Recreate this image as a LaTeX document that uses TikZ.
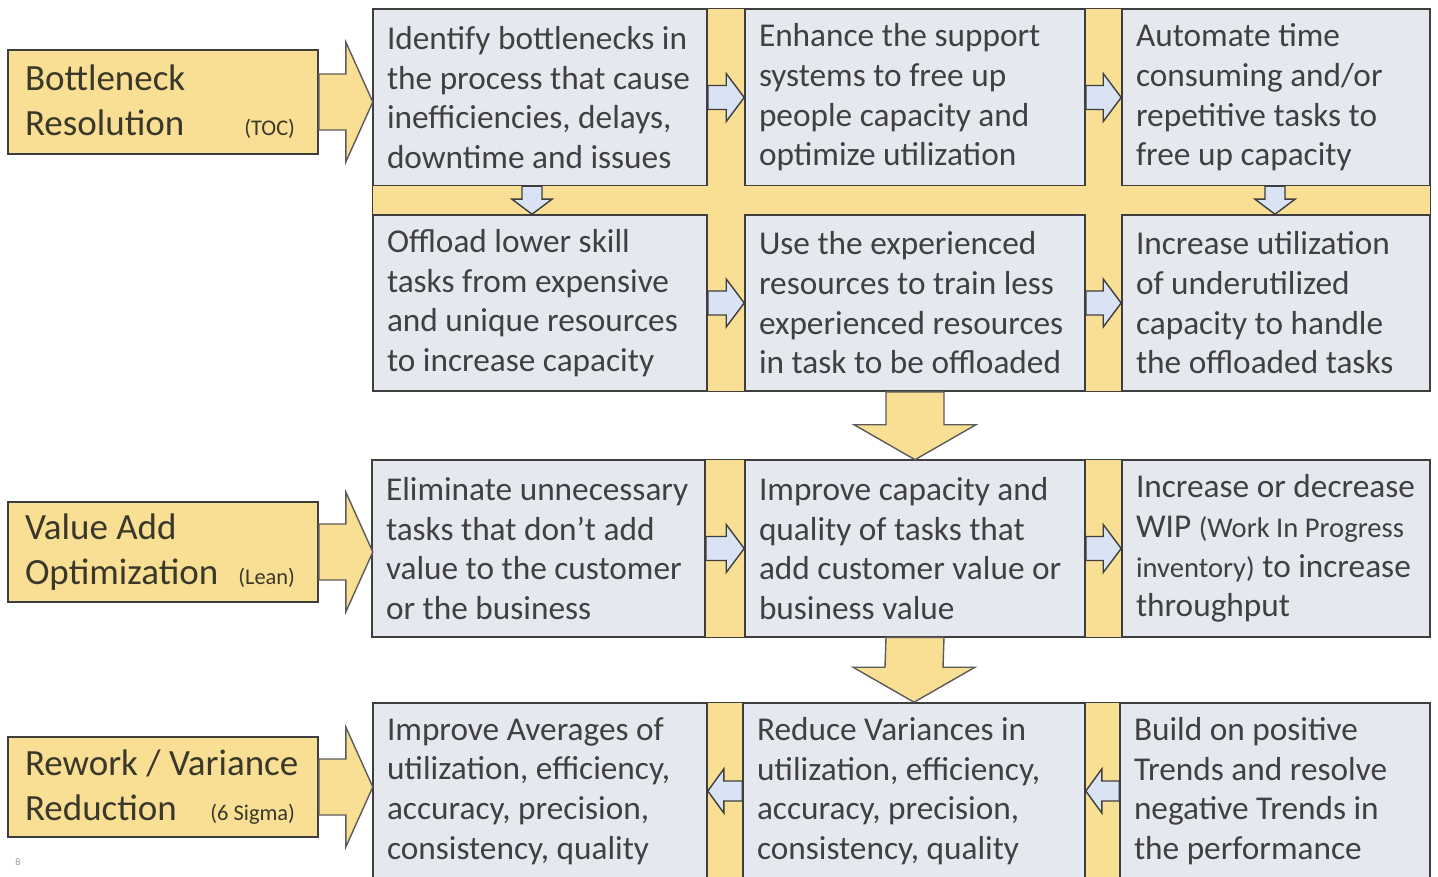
\documentclass[tikz,border=0pt]{standalone}
\usepackage{fontspec}
\setmainfont{Carlito}
\usepackage{tikz}
\usetikzlibrary{calc,backgrounds}

\definecolor{bandyellow}{RGB}{249,223,148}
\definecolor{boxgray}{RGB}{230,232,240}
\definecolor{arrowblue}{RGB}{218,227,243}
\definecolor{edgegray}{RGB}{62,62,62}
\definecolor{textgray}{RGB}{64,64,64}
\definecolor{lvltext}{RGB}{58,56,42}

\begin{document}
\begin{tikzpicture}
[
	x=1pt, y=-1pt,
	taskbox/.style={draw=edgegray, line width=1.6pt, fill=boxgray, text=textgray, align=flush left, inner xsep=14pt, minimum height=176pt, font=\fontsize{33.3}{39.7}\selectfont},
	lvlbox/.style={draw=edgegray, line width=1.6pt, fill=bandyellow, text=lvltext, align=flush left, inner xsep=17pt, text width=276pt, font=\fontsize{37}{45}\selectfont},
	smallarr/.style={draw=edgegray, line width=1.4pt, fill=arrowblue},
	bigarr/.style={draw=edgegray!85, line width=1.4pt, fill=bandyellow},
	band/.style={draw=edgegray, line width=1.2pt, fill=bandyellow}
]

\def\method#1{\hskip 0pt plus 1fill{\fontsize{22.4}{45}\selectfont #1}\hspace*{6pt}}
\def\wipfont{\fontsize{28.6}{39.7}\selectfont}
\def\rightblock#1#2{\draw[smallarr] (#1.east) ++(0,-12) -| ($(#2.west)+(-18,-24)$) -- (#2.west) -- ++(-18,24) |- ($(#1.east)+(0,12)$) -- cycle;}
\def\leftblock#1#2{\draw[smallarr] (#1.west) ++(0,-10) -| ($(#2.east)+(16,-22)$) -- (#2.east) -- ++(16,22) |- ($(#1.west)+(0,10)$) -- cycle;}
\def\downblock#1#2#3{\draw[smallarr] ($(#1.south)+(#3-10,0)$) -- ($(#2.north)+(#3-10,-15)$) -- ++(-10,0) -- ($(#2.north)+(#3,0)$) -- ++(20,-15) -- ++(-10,0) -- ($(#1.south)+(#3+10,0)$) -- cycle;}
\def\bigdown#1#2{\draw[bigarr] (#1.south) ++(-29,0) -- ($(#2.north)+(-29,-35)$) -- ++(-32,0) -- (#2.north) -- ++(61,-35) -- ++(-32,0) -- ($(#1.south)+(29,0)$) -- cycle;}
\def\lvlarrow#1{\draw[bigarr] (#1.east) ++(0,-28) -- ++(27,0) -- ++(0,-32) -- ++(27,60) -- ++(-27,60) -- ++(0,-32) -- ++(-27,0) -- cycle;}

\useasboundingbox (0,0) rectangle (1438,877);

% Bottleneck rows
\node[taskbox, text width=306pt] (a1) at (540,97.5) {Identify bottlenecks in\\the process that cause\\inefficiencies, delays,\\downtime and issues};
\node[taskbox, text width=312pt] (a2) at (915,97.5) {Enhance the support\\systems to free up\\people capacity and\\optimize utilization};
\node[taskbox, text width=280pt] (a3) at (1276,97.5) {Automate time\\consuming and/or\\repetitive tasks to\\free up capacity};
\node[taskbox, text width=306pt] (b1) at (540,303) {Offload lower skill\\tasks from expensive\\and unique resources\\to increase capacity};
\node[taskbox, text width=312pt] (b2) at (915,303) {Use the experienced\\resources to train less\\experienced resources\\in task to be offloaded};
\node[taskbox, text width=280pt] (b3) at (1276,303) {Increase utilization\\of underutilized\\capacity to handle\\the offloaded tasks};

% Value add row
\node[taskbox, text width=305pt] (c1) at (538.5,548.5) {\mbox{Eliminate unnecessary}\\tasks that don’t add\\value to the customer\\or the business};
\node[taskbox, text width=312pt] (c2) at (915,548.5) {Improve capacity and\\quality of tasks that\\add customer value or\\business value};
\node[taskbox, text width=280pt] (c3) at (1276,548.5) {\mbox{Increase or decrease}\\WIP {\wipfont (Work In Progress}\\{\wipfont inventory)} to increase\\throughput};

% Variance row
\node[taskbox, text width=306pt] (d1) at (540,791) {Improve Averages of\\utilization, efficiency,\\accuracy, precision,\\consistency, quality};
\node[taskbox, text width=314pt] (d2) at (914,791) {Reduce Variances in\\utilization, efficiency,\\accuracy, precision,\\consistency, quality};
\node[taskbox, text width=282pt] (d3) at (1275,791) {Build on positive\\Trends and resolve\\negative Trends in\\the performance};

% Yellow bands behind the rows
\begin{pgfonlayer}{background}
\draw[band] (a1.north west) rectangle (b3.south east);
\draw[band] (c1.north west) rectangle (c3.south east);
\draw[band] (d1.north west) rectangle (d3.south east);
\end{pgfonlayer}

% Arrows inside the rows
\rightblock{a1}{a2}
\rightblock{a2}{a3}
\rightblock{b1}{b2}
\rightblock{b2}{b3}
\downblock{a1}{b1}{-8}
\downblock{a3}{b3}{-1}
\rightblock{c1}{c2}
\rightblock{c2}{c3}
\leftblock{d2}{d1}
\leftblock{d3}{d2}

% Arrows between rows
\bigdown{b2}{c2}
\bigdown{c2}{d2}

% Level labels
\node[lvlbox, minimum height=104pt] (toc) at (163,102) {Bottleneck\\Resolution\method{(TOC)}};
\node[lvlbox, minimum height=100pt] (lean) at (163,552) {Value Add\\Optimization\method{(Lean)}};
\node[lvlbox, minimum height=100pt] (sigma) at (163,787) {\mbox{Rework / Variance}\\Reduction\method{(6 Sigma)}};
\lvlarrow{toc}
\lvlarrow{lean}
\lvlarrow{sigma}

\node[text=black!40, font=\fontsize{10}{12}\selectfont] (page) at (18,862) {8};

\end{tikzpicture}
\end{document}
